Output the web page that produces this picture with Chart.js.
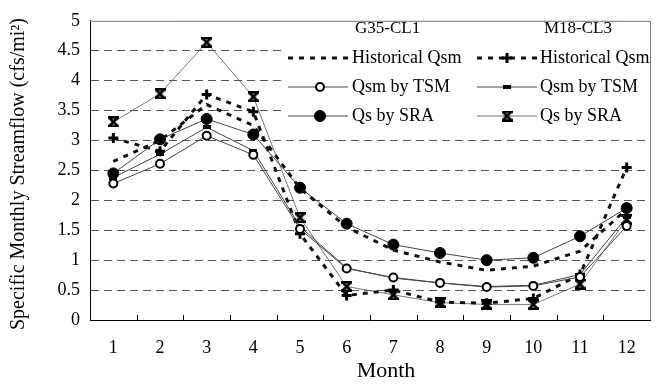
<!DOCTYPE html>
<html>
<head>
<meta charset="utf-8">
<script src="https://cdn.jsdelivr.net/npm/chart.js@4.4.1/dist/chart.umd.min.js"></script>
<style>
  html, body { margin: 0; padding: 0; background: #fff; }
  #wrap { width: 658px; height: 386px; }
</style>
</head>
<body>
<div id="wrap"><canvas id="flowChart"></canvas></div>
<script>
// months on the x axis
const months = ["1", "2", "3", "4", "5", "6", "7", "8", "9", "10", "11", "12"];

// G35-CL1 (cfs/mi2)
const g35Historical = [2.65, 3.0, 3.6, 3.25, 2.2, 1.55, 1.17, 0.97, 0.83, 0.9, 1.15, 1.85];
const g35Tsm = [2.28, 2.61, 3.08, 2.76, 1.52, 0.86, 0.71, 0.62, 0.55, 0.57, 0.72, 1.57];
const g35Sra = [2.45, 3.02, 3.36, 3.1, 2.21, 1.61, 1.26, 1.12, 1.0, 1.04, 1.4, 1.87];

// M18-CL3 (cfs/mi2)
const m18Historical = [3.04, 2.82, 3.77, 3.48, 1.44, 0.41, 0.5, 0.3, 0.28, 0.36, 0.76, 2.55];
const m18Tsm = [2.38, 2.77, 3.22, 2.83, 1.56, 0.87, 0.7, 0.62, 0.56, 0.58, 0.76, 1.72];
const m18Sra = [3.31, 3.78, 4.64, 3.73, 1.71, 0.56, 0.42, 0.29, 0.26, 0.26, 0.6, 1.68];

const yTitle = "Specific Monthly Streamflow (cfs/mi\u00B2)";
const xTitle = "Month";
const serif = "'Liberation Serif', 'Times New Roman', serif";

// small marker images
function makeDash() {
  const c = document.createElement("canvas");
  c.width = 8; c.height = 4;
  const g = c.getContext("2d");
  g.fillStyle = "#000";
  g.fillRect(0, 0, 8, 4);
  return c;
}
function makeHourglass() {
  const c = document.createElement("canvas");
  c.width = 11; c.height = 11;
  const g = c.getContext("2d");
  g.strokeStyle = "#000";
  g.lineWidth = 2.6;
  g.beginPath();
  g.moveTo(1, 1); g.lineTo(10, 10);
  g.moveTo(10, 1); g.lineTo(1, 10);
  g.stroke();
  g.fillStyle = "#000";
  g.fillRect(0, 0, 11, 2.5);
  g.fillRect(0, 8.5, 11, 2.5);
  return c;
}
const dashMark = makeDash();
const hourglassMark = makeHourglass();

const datasets = [
  {
    label: "Historical Qsm", group: "G35-CL1", data: g35Historical,
    borderColor: "#111", borderWidth: 3, borderDash: [5, 6],
    pointRadius: 0, pointStyle: false
  },
  {
    label: "Qsm by TSM", group: "G35-CL1", data: g35Tsm,
    borderColor: "#444", borderWidth: 1,
    pointStyle: "circle", pointRadius: 4, pointBorderWidth: 2,
    pointBackgroundColor: "#fff", pointBorderColor: "#000"
  },
  {
    label: "Qs by SRA", group: "G35-CL1", data: g35Sra,
    borderColor: "#444", borderWidth: 1,
    pointStyle: "circle", pointRadius: 5.5, pointBorderWidth: 1,
    pointBackgroundColor: "#000", pointBorderColor: "#000"
  },
  {
    label: "Historical Qsm", group: "M18-CL3", data: m18Historical,
    borderColor: "#111", borderWidth: 3, borderDash: [5, 6],
    pointStyle: "cross", pointRadius: 5, pointBorderWidth: 3,
    pointBackgroundColor: "#000", pointBorderColor: "#000"
  },
  {
    label: "Qsm by TSM", group: "M18-CL3", data: m18Tsm,
    borderColor: "#444", borderWidth: 1,
    pointStyle: dashMark, pointRadius: 4
  },
  {
    label: "Qs by SRA", group: "M18-CL3", data: m18Sra,
    borderColor: "#555", borderWidth: 0.8,
    pointStyle: hourglassMark, pointRadius: 5
  }
];

// legend table, axis titles, inward x ticks and the frame
const decorations = {
  id: "decorations",
  afterDatasetsDraw(chart) {
    const ctx = chart.ctx;
    const area = chart.chartArea;
    const x = chart.scales.x;

    ctx.save();
    // inward tick marks between months
    ctx.strokeStyle = "#000";
    ctx.lineWidth = 1;
    ctx.beginPath();
    for (let i = 0; i < months.length - 1; i++) {
      const px = Math.round(x.getPixelForValue(i + 0.5)) + 0.5;
      ctx.moveTo(px, area.bottom);
      ctx.lineTo(px, area.bottom - 5);
    }
    ctx.stroke();

    // legend block
    ctx.fillStyle = "#fff";
    ctx.fillRect(284, 45, area.right - 285, 86);
    ctx.fillStyle = "#000";
    ctx.textBaseline = "middle";
    ctx.textAlign = "left";
    ctx.font = "17px " + serif;
    ctx.fillText("G35-CL1", 355, 29);
    ctx.fillText("M18-CL3", 544, 29);

    const cols = [
      { group: "G35-CL1", x0: 288, x1: 348, mx: 320, tx: 352 },
      { group: "M18-CL3", x0: 477, x1: 537, mx: 507, tx: 540 }
    ];
    const rowY = [58, 87, 116];
    ctx.font = "18px " + serif;
    cols.forEach(col => {
      const sets = datasets.filter(d => d.group === col.group);
      sets.forEach((d, r) => {
        const y = rowY[r];
        ctx.save();
        ctx.strokeStyle = d.borderColor;
        ctx.lineWidth = d.borderWidth;
        ctx.setLineDash(d.borderDash || []);
        ctx.beginPath();
        ctx.moveTo(col.x0, y);
        ctx.lineTo(col.x1, y);
        ctx.stroke();
        ctx.setLineDash([]);
        if (d.pointStyle) {
          ctx.fillStyle = d.pointBackgroundColor || "#000";
          ctx.strokeStyle = d.pointBorderColor || "#000";
          ctx.lineWidth = d.pointBorderWidth || 1;
          Chart.helpers.drawPoint(ctx, {
            pointStyle: d.pointStyle, radius: d.pointRadius,
            borderWidth: d.pointBorderWidth || 1, rotation: 0
          }, col.mx, y);
        }
        ctx.restore();
        ctx.fillStyle = "#000";
        ctx.fillText(d.label, col.tx, y);
      });
    });
    ctx.restore();
  },
  afterDraw(chart) {
    const ctx = chart.ctx;
    const area = chart.chartArea;
    ctx.save();
    // top and right frame
    ctx.strokeStyle = "#777";
    ctx.lineWidth = 1;
    ctx.beginPath();
    ctx.moveTo(area.left, area.top + 0.5);
    ctx.lineTo(area.right + 0.5, area.top + 0.5);
    ctx.lineTo(area.right + 0.5, area.bottom);
    ctx.stroke();

    // axis titles
    ctx.fillStyle = "#000";
    ctx.textAlign = "center";
    ctx.textBaseline = "middle";
    ctx.font = "22px " + serif;
    ctx.fillText(xTitle, 386, 371);
    ctx.translate(19, 174);
    ctx.rotate(-Math.PI / 2);
    ctx.font = "20px " + serif;
    ctx.fillText(yTitle, 0, 0);
    ctx.restore();
  }
};

new Chart(document.getElementById("flowChart"), {
  type: "line",
  data: { labels: months, datasets: datasets },
  options: {
    responsive: true,
    maintainAspectRatio: false,
    animation: false,
    layout: { padding: { left: 0, right: 3, top: 12, bottom: 0 } },
    elements: { line: { tension: 0, fill: false } },
    plugins: {
      legend: { display: false },
      tooltip: { enabled: false }
    },
    scales: {
      x: {
        offset: true,
        grid: { display: false, drawTicks: false, offset: true },
        border: { display: true, color: "#000", width: 1 },
        ticks: { color: "#000", padding: 17, maxRotation: 0, font: { family: serif, size: 18 } },
        afterFit(scale) { scale.height = 66; }
      },
      y: {
        min: 0,
        max: 5,
        ticks: {
          stepSize: 0.5, color: "#000", padding: 10,
          font: { family: serif, size: 18 },
          callback: (v) => String(Number(v.toFixed(1)))
        },
        grid: {
          drawTicks: false,
          lineWidth: 1,
          color: (c) => (c.tick && (c.tick.value === 0 || c.tick.value === 5)) ? "rgba(0,0,0,0)" : "#555"
        },
        border: { display: true, color: "#000", width: 1, dash: [8, 5] },
        afterFit(scale) { scale.width = 90; }
      }
    }
  },
  plugins: [decorations]
});
</script>
</body>
</html>
